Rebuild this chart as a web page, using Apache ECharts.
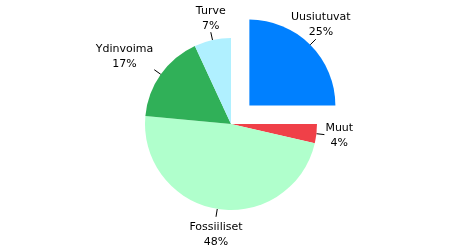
<!DOCTYPE html>
<html>
<head>
<meta charset="utf-8">
<script src="https://cdn.jsdelivr.net/npm/echarts@6/dist/echarts.min.js"></script>
<style>html,body{margin:0;padding:0;background:#fff}#c{width:461px;height:249px}</style>
</head>
<body>
<div id="c"></div>
<script>
var categories = ['Uusiutuvat', 'Muut', 'Fossiiliset', 'Ydinvoima', 'Turve'];
var values = [25, 3.6, 47.9, 16.6, 6.9];
var colors = ['#0080ff', '#f04048', '#b0ffcc', '#30b058', '#b0f0ff'];
var selectedCategory = 'Uusiutuvat';

var data = categories.map(function (c, i) {
  return { name: c, value: values[i], selected: c === selectedCategory, itemStyle: { color: colors[i] } };
});

var chart = echarts.init(document.getElementById('c'), null, { renderer: 'canvas' });
chart.setOption({
  animation: false,
  series: [{
    type: 'pie',
    center: [231, 124],
    radius: 86,
    startAngle: 90,
    clockwise: true,
    selectedMode: 'single',
    selectedOffset: 26,
    avoidLabelOverlap: false,
    emphasis: { disabled: true },
    data: data,
    label: {
      show: true,
      position: 'outside',
      fontFamily: 'DejaVu Sans, sans-serif',
      fontSize: 11,
      lineHeight: 15,
      color: '#000',
      align: 'center',
      formatter: function (p) { return p.name + '\n' + Math.round(p.value) + '%'; }
    },
    labelLine: {
      show: true,
      length: 8,
      length2: 0,
      smooth: false,
      lineStyle: { color: '#000', width: 1 }
    },
    labelLayout: function (params) {
      var pts = params.labelLinePoints;
      if (!pts) return {};
      var s = pts[0], e = pts[1];
      var dx = e[0] - s[0], dy = e[1] - s[1];
      var w = params.labelRect.width;
      var ax = Math.abs(dx), ay = Math.abs(dy);
      var x, y, va;
      if (ax < 0.4 * ay) {
        x = e[0];
        y = dy < 0 ? e[1] + 1 : e[1] + 3;
        va = dy < 0 ? 'bottom' : 'top';
      } else if (ay < 0.4 * ax) {
        x = dx > 0 ? e[0] + 1 + w / 2 : e[0] - 1 - w / 2;
        y = e[1] + 1;
        va = 'middle';
      } else {
        x = dx > 0 ? e[0] + w / 2 : e[0] - 1 - w / 2;
        y = dy < 0 ? e[1] + 2 : e[1] + 3;
        va = dy < 0 ? 'bottom' : 'top';
      }
      return {
        x: x, y: y, align: 'center', verticalAlign: va,
        labelLinePoints: [[s[0], s[1]], [e[0], e[1]], [e[0], e[1]]]
      };
    }
  }]
});
</script>
</body>
</html>
